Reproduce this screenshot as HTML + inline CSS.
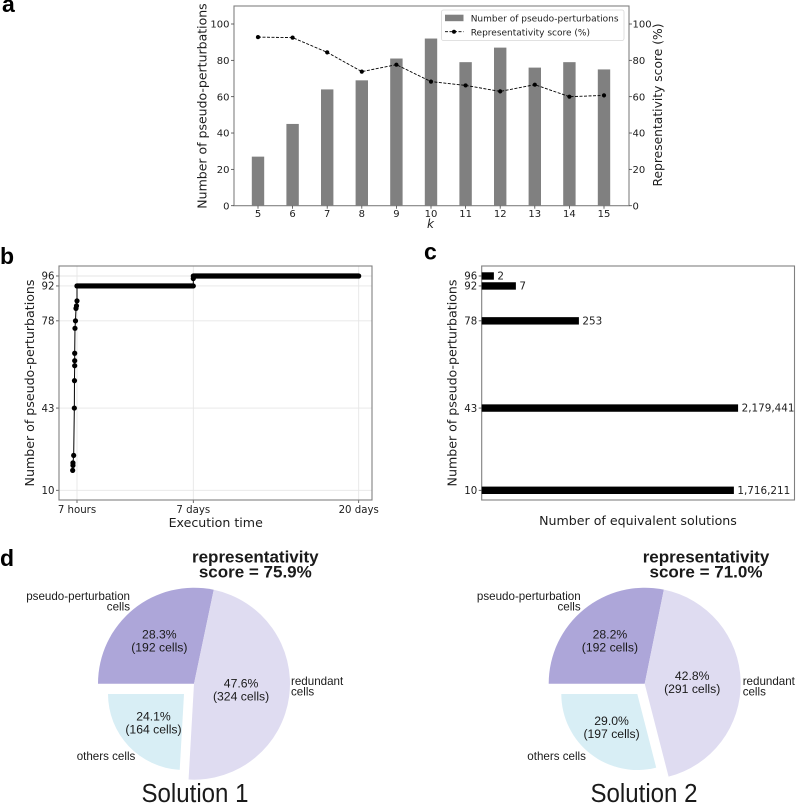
<!DOCTYPE html>
<html lang="en">
<head>
<meta charset="utf-8">
<title>Pseudo-perturbation figure</title>
<style>
html,body{margin:0;padding:0;background:#fff;}
body{width:796px;height:804px;overflow:hidden;}
svg{display:block;filter:blur(0.3px);}
.dj{font-family:"DejaVu Sans",sans-serif;fill:#1c1c1c;}
.ls{font-family:"Liberation Sans",sans-serif;fill:#1a1a1a;}
.letter{font-family:"Liberation Sans",sans-serif;font-weight:bold;font-size:23px;fill:#000;}
.frame{fill:none;stroke:#808080;stroke-width:1.1;}
</style>
</head>
<body>
<svg id="fig" xmlns="http://www.w3.org/2000/svg" width="796" height="804" viewBox="0 0 796 804">
  <text class="letter" x="2" y="12">a</text>
  <text class="letter" x="0" y="264">b</text>
  <text class="letter" x="424" y="259.5">c</text>
  <text class="letter" x="0" y="566">d</text>

  <g id="panelA">
    <rect class="frame" x="234" y="6" width="395" height="199.7"/>
    <text class="dj" font-size="12.5" text-anchor="middle" transform="translate(206.5,106) rotate(-90)">Number of pseudo-perturbations</text>
    <text class="dj" font-size="12.3" text-anchor="middle" transform="translate(662,105) rotate(-90)">Representativity score (%)</text>
    <text class="dj" font-size="12" font-style="italic" text-anchor="middle" x="430.5" y="228">k</text>
  </g>
  <g id="legendA">
    <rect x="441.5" y="10" width="182.5" height="30.5" rx="2" fill="#fff" fill-opacity="0.9" stroke="#d8d8d8" stroke-width="0.8"/>
    <rect x="445" y="14.7" width="18.5" height="6.5" fill="#808080"/>
    <text class="dj" font-size="9" x="470.7" y="21.5">Number of pseudo-perturbations</text>
    <line x1="445" x2="463.5" y1="31.7" y2="31.7" stroke="#000" stroke-width="0.9" stroke-dasharray="3 1.5"/>
    <circle cx="454" cy="31.7" r="2" fill="#000"/>
    <text class="dj" font-size="9" x="470.7" y="35.3">Representativity score (%)</text>
  </g>

  <g id="panelB">
    <text class="dj" font-size="12.6" text-anchor="middle" transform="translate(34,383) rotate(-90)">Number of pseudo-perturbations</text>
    <text class="dj" font-size="12.6" text-anchor="middle" x="215.7" y="527">Execution time</text>
  </g>

  <g id="panelC">
    <text class="dj" font-size="12.6" text-anchor="middle" transform="translate(456.5,383) rotate(-90)">Number of pseudo-perturbations</text>
    <text class="dj" font-size="12.6" text-anchor="middle" x="638" y="525">Number of equivalent solutions</text>
  </g>

  <g id="panelD">
    <text class="ls" font-size="17" font-weight="bold" fill="#000" text-anchor="middle" x="255.3" y="562.7">representativity</text>
    <text class="ls" font-size="17" font-weight="bold" fill="#000" text-anchor="middle" x="255.3" y="577.7">score = 75.9%</text>
    <text class="ls" font-size="17" font-weight="bold" fill="#000" text-anchor="middle" x="706" y="562.7">representativity</text>
    <text class="ls" font-size="17" font-weight="bold" fill="#000" text-anchor="middle" x="706" y="577.7">score = 71.0%</text>

    <text class="ls" font-size="11.6" text-anchor="end" x="130" y="600">pseudo-perturbation</text>
    <text class="ls" font-size="11.6" text-anchor="end" x="130" y="610.7">cells</text>
    <text class="ls" font-size="11.6" x="291" y="685">redundant</text>
    <text class="ls" font-size="11.6" x="291" y="695.3">cells</text>
    <text class="ls" font-size="11.6" x="76.7" y="760">others cells</text>

    <text class="ls" font-size="11.6" text-anchor="end" x="580.7" y="600">pseudo-perturbation</text>
    <text class="ls" font-size="11.6" text-anchor="end" x="580.7" y="610.7">cells</text>
    <text class="ls" font-size="11.6" x="742.7" y="685">redundant</text>
    <text class="ls" font-size="11.6" x="742.7" y="695.3">cells</text>
    <text class="ls" font-size="11.6" x="527.3" y="760">others cells</text>

    <text class="ls" font-size="25.5" text-anchor="middle" x="195" y="802" textLength="107" lengthAdjust="spacingAndGlyphs">Solution 1</text>
    <text class="ls" font-size="25.5" text-anchor="middle" x="644" y="802" textLength="107" lengthAdjust="spacingAndGlyphs">Solution 2</text>
  </g>
</svg>

<script>
// ---------- Panel a data ----------
const kValues = [5, 6, 7, 8, 9, 10, 11, 12, 13, 14, 15];
const pseudoCounts = [27, 45, 64, 69, 81, 92, 79, 87, 76, 79, 75];
const repScores = [92.8, 92.5, 84.4, 73.8, 77.6, 68.3, 66.2, 62.9, 66.6, 60, 60.7];
const yTicksA = [0, 20, 40, 60, 80, 100];

// ---------- Panel b data ----------
const timeTickHours = [7, 168, 480];
const timeTickLabels = ['7 hours', '7 days', '20 days'];
const countTicks = [10, 43, 78, 92, 96];
const stepHours = [1, 1.4, 1.4, 2.4, 3.3, 3.5, 3.8, 3.8, 3.8, 4.2, 4.9, 5.6, 6.3, 7, 7];
const stepCounts = [18, 20, 21, 24, 43, 54, 60, 62, 65, 75, 78, 83, 84, 86, 92];
const plateauStartHours = [7, 168];
const plateauEndHours = [168, 480];
const plateauCounts = [92, 96];
const jumpHours = [168];
const jumpCounts = [95];

// ---------- Panel c data ----------
const solutionTiers = [96, 92, 78, 43, 10];
const solutionCounts = [2, 7, 253, 2179441, 1716211];
const solutionLabels = ['2', '7', '253', '2,179,441', '1,716,211'];

// ---------- Panel d data ----------
const sliceKeys = ['pseudo', 'redundant', 'others'];
const solution1Percents = [28.3, 47.6, 24.1];
const solution1Cells = [192, 324, 164];
const solution2Percents = [28.2, 42.8, 29.0];
const solution2Cells = [192, 291, 197];

const NS = 'http://www.w3.org/2000/svg';
function make(parent, tag, props, txt) {
  const n = document.createElementNS(NS, tag);
  for (const k in props) n.setAttribute(k, props[k]);
  if (txt !== undefined) n.textContent = txt;
  parent.appendChild(n);
  return n;
}

// ---------- Panel a ----------
(function () {
  const g = document.getElementById('panelA');
  const xA = k => 258 + (k - 5) * 34.6;
  const yA = v => 205.7 - v * 1.817;
  const barW = 12.4;

  kValues.forEach((k, i) => {
    const bar = make(g, 'rect', {x: xA(k) - barW / 2, y: yA(pseudoCounts[i]), width: barW, height: yA(0) - yA(pseudoCounts[i]), fill: '#808080'});
    
    
    const tick = make(g, 'line', {x1: xA(k), x2: xA(k), y1: 205.7, y2: 208.7, stroke: '#444', 'stroke-width': 0.8});
    
    
    const lab = make(g, 'text', {x: xA(k), y: 217, 'text-anchor': 'middle', 'font-size': 10, class: 'dj'}, String(k));
    
    
  });

  yTicksA.forEach(v => {
    const t1 = make(g, 'line', {x1: 231, x2: 234, y1: yA(v), y2: yA(v), stroke: '#444', 'stroke-width': 0.8});
    
    
    const l1 = make(g, 'text', {x: 229.5, y: yA(v) + 3.7, 'text-anchor': 'end', 'font-size': 10, class: 'dj'}, String(v));
    
    
    const t2 = make(g, 'line', {x1: 629, x2: 632, y1: yA(v), y2: yA(v), stroke: '#444', 'stroke-width': 0.8});
    
    
    const l2 = make(g, 'text', {x: 632.5, y: yA(v) + 3.7, 'font-size': 10, class: 'dj'}, String(v));
    
    
  });

  const pts = kValues.map((k, i) => xA(k).toFixed(2) + ',' + yA(repScores[i]).toFixed(2)).join(' ');
  const line = make(g, 'polyline', {points: pts, fill: 'none', stroke: '#000', 'stroke-width': 0.9, 'stroke-dasharray': '3 1.5'});
  
  
  kValues.forEach((k, i) => {
    const c = make(g, 'circle', {cx: xA(k), cy: yA(repScores[i]), r: 2.1, fill: '#000'});
    
    
  });
  g.parentNode.appendChild(document.getElementById('legendA'));
})();

// ---------- Shared count axis for b and c ----------
const yCount = v => 490.3 - (v - 10) * 2.492;

// ---------- Panel b ----------
(function () {
  const g = document.getElementById('panelB');
  const tickPx = [77, 193.3, 358.7];
  // The time axis is piecewise between the labelled ticks
  function xT(h) {
    if (h <= timeTickHours[1]) return tickPx[0] + (h - timeTickHours[0]) * (tickPx[1] - tickPx[0]) / (timeTickHours[1] - timeTickHours[0]);
    return tickPx[1] + (h - timeTickHours[1]) * (tickPx[2] - tickPx[1]) / (timeTickHours[2] - timeTickHours[1]);
  }

  countTicks.forEach(v => {
    const gl = make(g, 'line', {x1: 59, x2: 372, y1: yCount(v), y2: yCount(v), stroke: '#e6e6e6', 'stroke-width': 0.9});
    
    
    const t = make(g, 'line', {x1: 56, x2: 59, y1: yCount(v), y2: yCount(v), stroke: '#444', 'stroke-width': 0.8});
    
    
    const l = make(g, 'text', {x: 54.5, y: yCount(v) + 3.7, 'text-anchor': 'end', 'font-size': 10.2, class: 'dj'}, String(v));
    
    
  });
  timeTickHours.forEach((h, i) => {
    const gl = make(g, 'line', {x1: xT(h), x2: xT(h), y1: 266, y2: 500, stroke: '#e6e6e6', 'stroke-width': 0.9});
    
    
    const t = make(g, 'line', {x1: xT(h), x2: xT(h), y1: 500, y2: 503, stroke: '#444', 'stroke-width': 0.8});
    
    
    const l = make(g, 'text', {x: xT(h), y: 513, 'text-anchor': 'middle', 'font-size': 10.2, class: 'dj'}, timeTickLabels[i]);
    
    
  });
  const frame = make(g, 'rect', {class: 'frame', x: 59, y: 266, width: 313, height: 234});
  
  

  const pathPts = stepHours.map((h, i) => xT(h).toFixed(2) + ',' + yCount(stepCounts[i]).toFixed(2));
  plateauCounts.forEach((c, i) => {
    pathPts.push(xT(plateauStartHours[i]).toFixed(2) + ',' + yCount(c).toFixed(2));
    pathPts.push(xT(plateauEndHours[i]).toFixed(2) + ',' + yCount(c).toFixed(2));
  });
  const line = make(g, 'polyline', {points: pathPts.join(' '), fill: 'none', stroke: '#000', 'stroke-width': 1});
  
  

  stepHours.forEach((h, i) => {
    const c = make(g, 'circle', {cx: xT(h), cy: yCount(stepCounts[i]), r: 2.6, fill: '#000'});
    
    
  });
  plateauCounts.forEach((c, i) => {
    const run = make(g, 'line', {x1: xT(plateauStartHours[i]), x2: xT(plateauEndHours[i]), y1: yCount(c), y2: yCount(c), stroke: '#000', 'stroke-width': 5.2, 'stroke-linecap': 'round'});
    
    
  });
  jumpHours.forEach((h, i) => {
    const c = make(g, 'circle', {cx: xT(h), cy: yCount(jumpCounts[i]), r: 2.6, fill: '#000'});
    
    
  });
})();

// ---------- Panel c ----------
(function () {
  const g = document.getElementById('panelC');
  const x0 = 481.7;
  const xLog = v => x0 + Math.log10(v) * 40.45;
  const frame = make(g, 'rect', {class: 'frame', x: x0, y: 266, width: 312.8, height: 234});
  
  
  solutionTiers.forEach((tier, i) => {
    const y = yCount(tier);
    const bar = make(g, 'rect', {x: x0, y: y - 3.7, width: xLog(solutionCounts[i]) - x0, height: 7.4, fill: '#000'});
    
    
    const t = make(g, 'line', {x1: x0 - 3, x2: x0, y1: y, y2: y, stroke: '#444', 'stroke-width': 0.8});
    
    
    const l = make(g, 'text', {x: x0 - 4.5, y: y + 3.7, 'text-anchor': 'end', 'font-size': 10.2, class: 'dj'}, String(tier));
    
    
    const v = make(g, 'text', {x: xLog(solutionCounts[i]) + 3.5, y: y + 3.5, 'font-size': 10.4, class: 'dj'}, solutionLabels[i]);
    
    
  });
})();

// ---------- Panel d ----------
(function () {
  const g = document.getElementById('panelD');
  const fills = {pseudo: '#ADA6D9', redundant: '#DFDCF1', others: '#D8EEF5'};
  const labelDist = {pseudo: 55, redundant: 47.5, others: 42};
  const cy = 683.7, rMain = 96, rOthers = 76;
  const rad = d => d * Math.PI / 180;

  function drawPie(prefix, cx, othersShiftX, percents, cells) {
    let a = 180; // start at west, go clockwise
    sliceKeys.forEach((key, i) => {
      const sweep = percents[i] * 3.6;
      const end = a - sweep;
      const mid = (a + end) / 2;
      const isOther = key === 'others';
      const vx = isOther ? cx - othersShiftX : cx;
      const vy = isOther ? cy + 10.3 : cy;
      const r = isOther ? rOthers : rMain;
      const sx = vx + r * Math.cos(rad(a)), sy = vy - r * Math.sin(rad(a));
      const ex = vx + r * Math.cos(rad(end)), ey = vy - r * Math.sin(rad(end));
      const large = sweep > 180 ? 1 : 0;
      const d = 'M' + vx + ' ' + vy + 'L' + sx.toFixed(2) + ' ' + sy.toFixed(2) + 'A' + r + ' ' + r + ' 0 ' + large + ' 1 ' + ex.toFixed(2) + ' ' + ey.toFixed(2) + 'Z';
      const p = make(g, 'path', {d: d, fill: fills[key]});
      
      
      const lx = vx + labelDist[key] * Math.cos(rad(mid));
      const ly = vy - labelDist[key] * Math.sin(rad(mid));
      const t1 = make(g, 'text', {x: lx, y: ly - 2.4, 'text-anchor': 'middle', 'font-size': 12.2, class: 'ls'}, percents[i].toFixed(1) + '%');
      
      
      const t2 = make(g, 'text', {x: lx, y: ly + 10.6, 'text-anchor': 'middle', 'font-size': 12.2, class: 'ls'}, '(' + cells[i] + ' cells)');
      
      
      a = end;
    });
  }
  drawPie('solution-1', 194, 10, solution1Percents, solution1Cells);
  drawPie('solution-2', 644.7, 7.4, solution2Percents, solution2Cells);
})();
</script>
</body>
</html>
